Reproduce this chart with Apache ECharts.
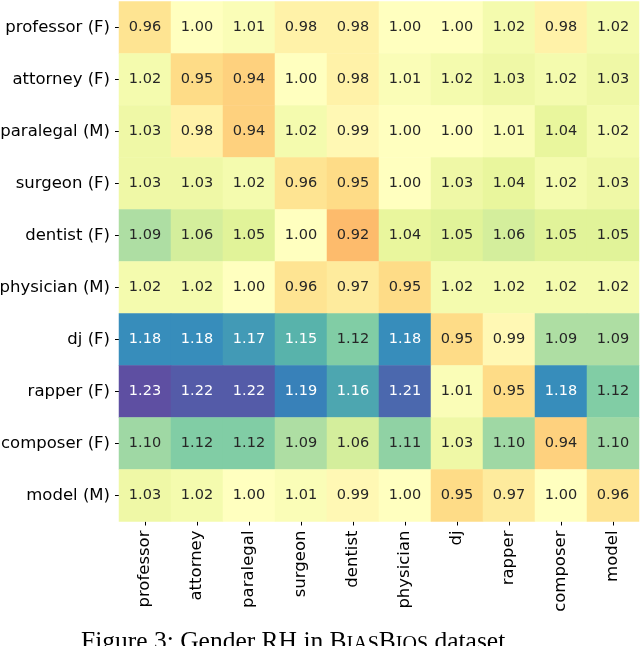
<!DOCTYPE html>
<html>
<head>
<meta charset="utf-8">
<script src="https://cdn.jsdelivr.net/npm/echarts@6/dist/echarts.min.js"></script>
<style>
html,body{margin:0;padding:0;background:#fff;}
#chart{width:640px;height:646px;}
</style>
</head>
<body>
<div id="chart"></div>
<script>
var xCategories = ['professor','attorney','paralegal','surgeon','dentist','physician','dj','rapper','composer','model'];
var yCategories = ['professor (F)','attorney (F)','paralegal (M)','surgeon (F)','dentist (F)','physician (M)','dj (F)','rapper (F)','composer (F)','model (M)'];
var rowProfessor = [0.96,1.00,1.01,0.98,0.98,1.00,1.00,1.02,0.98,1.02];
var rowAttorney  = [1.02,0.95,0.94,1.00,0.98,1.01,1.02,1.03,1.02,1.03];
var rowParalegal = [1.03,0.98,0.94,1.02,0.99,1.00,1.00,1.01,1.04,1.02];
var rowSurgeon   = [1.03,1.03,1.02,0.96,0.95,1.00,1.03,1.04,1.02,1.03];
var rowDentist   = [1.09,1.06,1.05,1.00,0.92,1.04,1.05,1.06,1.05,1.05];
var rowPhysician = [1.02,1.02,1.00,0.96,0.97,0.95,1.02,1.02,1.02,1.02];
var rowDj        = [1.18,1.18,1.17,1.15,1.12,1.18,0.95,0.99,1.09,1.09];
var rowRapper    = [1.23,1.22,1.22,1.19,1.16,1.21,1.01,0.95,1.18,1.12];
var rowComposer  = [1.10,1.12,1.12,1.09,1.06,1.11,1.03,1.10,0.94,1.10];
var rowModel     = [1.03,1.02,1.00,1.01,0.99,1.00,0.95,0.97,1.00,0.96];
var rows = [rowProfessor,rowAttorney,rowParalegal,rowSurgeon,rowDentist,rowPhysician,rowDj,rowRapper,rowComposer,rowModel];

var spectral = ['#9e0142','#d53e4f','#f46d43','#fdae61','#fee08b','#ffffbf','#e6f598','#abdda4','#66c2a5','#3288bd','#5e4fa2'];

var data = [];
rows.forEach(function(r, yi){
  r.forEach(function(v, xi){
    data.push({value:[xi, yi, v], label:{color: v >= 1.14 ? '#ffffff' : '#262626'}});
  });
});

var chart = echarts.init(document.getElementById('chart'), null, {renderer:'canvas'});
var fontAxis = 'DejaVu Sans';
chart.setOption({
  animation:false,
  backgroundColor:'#ffffff',
  grid:{left:119, top:1.5, width:520, height:520, containLabel:false, outerBoundsMode:'none'},
  xAxis:{
    type:'category', data:xCategories, position:'bottom',
    axisLine:{show:false},
    axisTick:{show:true, alignWithLabel:true, length:4, lineStyle:{color:'#000', width:1}},
    axisLabel:{rotate:90, margin:9, color:'#000', fontFamily:fontAxis, fontSize:16.5},
    splitLine:{show:false}
  },
  yAxis:{
    type:'category', data:yCategories, inverse:true,
    axisLine:{show:false},
    axisTick:{show:true, alignWithLabel:true, length:4, lineStyle:{color:'#000', width:1}},
    axisLabel:{margin:9, color:'#000', fontFamily:fontAxis, fontSize:16.5},
    splitLine:{show:false}
  },
  visualMap:{
    show:false, type:'continuous', min:0.77, max:1.23, dimension:2,
    inRange:{color:spectral}
  },
  series:[{
    type:'heatmap', data:data,
    label:{show:true, fontFamily:fontAxis, fontSize:14.5,
      formatter:function(p){return p.value[2].toFixed(2);}},
    itemStyle:{borderWidth:0},
    emphasis:{disabled:true}
  }],
  graphic:[{
    type:'text', left:81, top:629,
    style:{
      text:'Figure 3: Gender RH in {b|B}{s|IAS}{b|B}{s|IOS} dataset.',
      fontFamily:'Liberation Serif', fontSize:25.5, fill:'#000',
      rich:{b:{fontFamily:'Liberation Serif', fontSize:25.5, fill:'#000', verticalAlign:'bottom'}, s:{fontFamily:'Liberation Serif', fontSize:20, fill:'#000', verticalAlign:'bottom'}}
    }
  }]
});
</script>
</body>
</html>
